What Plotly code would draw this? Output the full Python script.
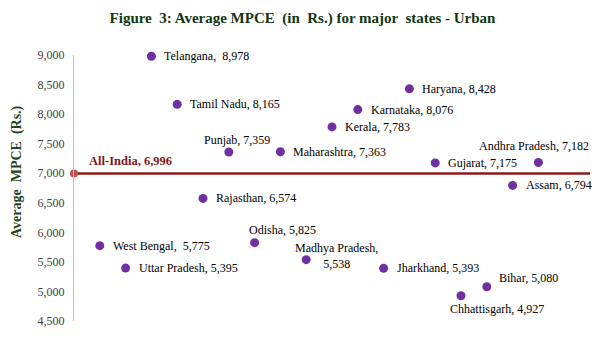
import plotly.graph_objects as go

# Average monthly per-capita consumption expenditure, urban, by state
states = ["West Bengal", "Uttar Pradesh", "Telangana", "Tamil Nadu", "Rajasthan",
          "Punjab", "Odisha", "Maharashtra", "Madhya Pradesh", "Kerala",
          "Karnataka", "Jharkhand", "Haryana", "Gujarat", "Chhattisgarh",
          "Bihar", "Assam", "Andhra Pradesh"]
mpce = [5775, 5395, 8978, 8165, 6574, 7359, 5825, 7363, 5538, 7783,
        8076, 5393, 8428, 7175, 4927, 5080, 6794, 7182]
all_india = 6996
y_ticks = [4500, 5000, 5500, 6000, 6500, 7000, 7500, 8000, 8500, 9000]

positions = list(range(1, len(states) + 1))
x_end = 20

# label placement: (xanchor, xshift, yshift, separator)
default_place = ("left", 11, 0, ", ")
label_place = {
    "West Bengal": ("left", 11, 0, ",  "),
    "Telangana": ("left", 11, 0, ",  "),
    "Punjab": ("center", 8, 12, ", "),
    "Odisha": ("left", -8, 13, ", "),
    "Madhya Pradesh": ("center", 30, 4, ",<br>"),
    "Andhra Pradesh": ("center", -4, 16, ", "),
    "Bihar": ("left", 10, 9, ", "),
    "Chhattisgarh": ("left", -13, -13, ", "),
}

SERIF = "Liberation Serif"

fig = go.Figure()

# All-India reference line
fig.add_trace(go.Scatter(
    x=[0, x_end], y=[all_india, all_india], mode="lines",
    line=dict(color="#8B1A1A", width=2.5), hoverinfo="skip", showlegend=False,
    cliponaxis=False))
fig.add_trace(go.Scatter(
    x=[0], y=[all_india], mode="markers",
    marker=dict(color="#C0504D", size=8), showlegend=False, cliponaxis=False))

# state points
fig.add_trace(go.Scatter(
    x=positions, y=mpce, mode="markers",
    marker=dict(color="#7030A0", size=9), showlegend=False, cliponaxis=False,
    text=states, hovertemplate="%{text}: %{y:,}<extra></extra>"))

for xp, st, v in zip(positions, states, mpce):
    anchor, dx, dy, sep = label_place.get(st, default_place)
    fig.add_annotation(
        x=xp, y=v, xref="x", yref="y",
        text=f"{st}{sep}{v:,}", showarrow=False,
        xanchor=anchor, yanchor="middle", xshift=dx, yshift=dy,
        align="center", font=dict(family=SERIF, size=12, color="#000000"))

fig.add_annotation(
    x=0, y=all_india, xref="x", yref="y",
    text=f"<b>All-India, {all_india:,}</b>", showarrow=False,
    xanchor="left", yanchor="middle", xshift=13, yshift=12,
    font=dict(family=SERIF, size=12.5, color="#7B1818"))

# axis title
fig.add_annotation(
    x=0, y=0.56, xref="paper", yref="paper", xshift=-57,
    text="<b>Average  MPCE  (Rs.)</b>", textangle=-90, showarrow=False,
    xanchor="center", yanchor="middle",
    font=dict(family=SERIF, size=14, color="#1E4620"))

fig.update_layout(
    width=605, height=340,
    margin=dict(l=74, r=15, t=55, b=15),
    paper_bgcolor="white", plot_bgcolor="white",
    title=dict(text="<b>Figure  3: Average MPCE  (in  Rs.) for major  states - Urban</b>",
               x=0.5, xanchor="center", y=0.947, yanchor="middle",
               font=dict(family=SERIF, size=15, color="#123612")),
    xaxis=dict(range=[0, x_end], visible=False, showgrid=False, zeroline=False),
    yaxis=dict(range=[4500, 9000], tickvals=y_ticks,
               ticktext=[f"{t:,}" for t in y_ticks],
               showgrid=False, zeroline=False,
               showline=True, linecolor="#BFBFBF", linewidth=1,
               ticks="outside", ticklen=6, tickcolor="rgba(0,0,0,0)",
               tickfont=dict(family=SERIF, size=12, color="#404040")),
)

fig.write_html("out.html")
